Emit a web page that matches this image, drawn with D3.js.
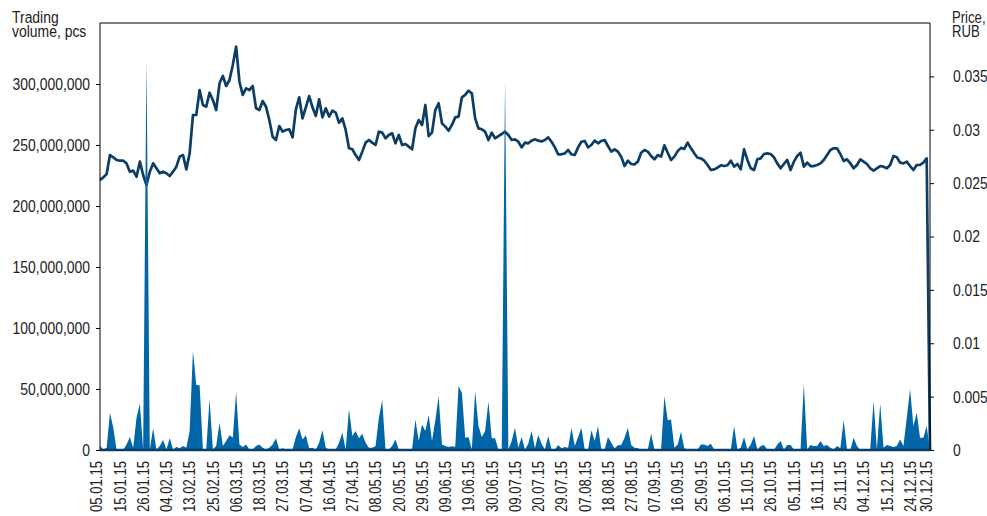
<!DOCTYPE html>
<html>
<head>
<meta charset="utf-8">
<script src="https://cdn.jsdelivr.net/npm/d3@7"></script>
<style>
  body { margin: 0; background: #fff; }
  text { font-family: 'Liberation Sans', Arial, sans-serif; fill: #222; }
</style>
</head>
<body>
<svg id="chart" width="987" height="516"></svg>
<script>
// Trading volume (millions of pcs), one value per trading day, last is the empty 31.12 slot
const volumeMln = [
  3.3, 0.5, 1.9, 30.6, 18.3, 0, 0, 0, 4.6, 10.7,
  1.9, 26.5, 38.0, 0.5, 320, 0.5, 17.8, 0.5, 3.3, 8.2,
  0.5, 9.6, 0.5, 2.5, 1.4, 3.3, 1.9, 15.6, 81.1, 53.3,
  53.0, 0.5, 0.5, 41.5, 0.5, 3.3, 22.4, 3.3, 7.4, 12.0,
  10.1, 47.5, 4.6, 2.5, 4.6, 0.5, 0.5, 3.3, 4.6, 1.9,
  0.5, 1.9, 4.6, 9.6, 0.5, 1.4, 0.5, 0.5, 0.5, 10.7,
  17.8, 8.7, 12.0, 1.4, 1.9, 0.5, 6.0, 16.1, 1.9, 0.5,
  0.5, 0.5, 6.0, 14.2, 0.5, 33.3, 11.5, 15.6, 9.6, 13.4,
  6.0, 1.9, 1.9, 3.3, 26.5, 41.0, 0.5, 0.5, 3.3, 8.7,
  0.5, 0.5, 0.5, 0.5, 0.5, 25.1, 7.4, 21.0, 15.6, 28.7,
  7.4, 24.3, 44.3, 4.6, 3.3, 2.5, 3.0, 2.7, 52.5, 47.0,
  10.1, 10.7, 0.5, 48.4, 19.7, 10.7, 15.6, 39.6, 9.6, 9.6,
  0.5, 0.5, 303, 0.5, 7.4, 18.3, 1.9, 10.7, 0.5, 5.2,
  15.6, 1.4, 12.3, 5.2, 0.5, 11.5, 0.5, 0.5, 4.1, 1.4,
  2.5, 1.9, 18.3, 3.3, 10.7, 18.3, 0.5, 0.5, 16.1, 7.4,
  19.7, 0.5, 0.5, 10.7, 6.0, 1.4, 3.8, 4.1, 10.1, 18.3,
  4.1, 1.9, 1.4, 0.5, 0.5, 0.5, 13.4, 0.5, 0.5, 0.5,
  44.3, 24.3, 25.1, 1.9, 4.6, 15.0, 1.4, 0.5, 0.5, 0.5,
  0.5, 4.6, 4.6, 3.3, 5.2, 0.5, 0, 0, 0, 0,
  0, 19.7, 0.5, 1.9, 10.7, 0.5, 4.6, 11.5, 0.5, 3.3,
  4.1, 0.5, 0, 0, 4.6, 7.4, 0.5, 4.1, 4.1, 0.5,
  0, 0, 53.8, 0.5, 4.1, 3.3, 3.3, 7.4, 3.3, 4.1,
  1.9, 0.5, 3.3, 1.4, 24.3, 0.5, 0, 10.1, 3.3, 0,
  0, 0, 0.5, 40.2, 0.5, 38.0, 1.9, 4.1, 3.3, 2.5,
  3.3, 8.7, 3.3, 26.5, 49.7, 19.7, 30.6, 10.1, 10.1, 19.7,
  0
];

// Price, RUB
const price = [
  0.02529, 0.02554, 0.02586, 0.02763, 0.02742, 0.02717, 0.02710, 0.02710, 0.02685, 0.02607,
  0.02617, 0.02560, 0.02701, 0.02576, 0.02482, 0.02607, 0.02685, 0.02639, 0.02592, 0.02607,
  0.02592, 0.02567, 0.02607, 0.02654, 0.02748, 0.02763, 0.02629, 0.02779, 0.03138, 0.03138,
  0.03372, 0.03232, 0.03216, 0.03347, 0.03279, 0.03185, 0.03435, 0.03504, 0.03410, 0.03466,
  0.03607, 0.03778, 0.03450, 0.03326, 0.03388, 0.03372, 0.03410, 0.03201, 0.03185, 0.03269,
  0.03216, 0.03091, 0.02935, 0.02904, 0.03035, 0.02982, 0.02998, 0.03004, 0.02929, 0.03191,
  0.03304, 0.03107, 0.03210, 0.03316, 0.03210, 0.03129, 0.03285, 0.03116, 0.03201, 0.03123,
  0.03179, 0.03160, 0.03066, 0.03107, 0.02998, 0.02826, 0.02817, 0.02763, 0.02717, 0.02795,
  0.02879, 0.02904, 0.02879, 0.02857, 0.02982, 0.02973, 0.02920, 0.02951, 0.02967, 0.02873,
  0.02951, 0.02857, 0.02867, 0.02842, 0.02817, 0.03013, 0.03091, 0.03045, 0.03232, 0.02941,
  0.02973, 0.03185, 0.03248, 0.03060, 0.03029, 0.02991, 0.03045, 0.03116, 0.03123, 0.03304,
  0.03326, 0.03366, 0.03341, 0.03107, 0.03013, 0.03004, 0.02982, 0.02904, 0.02973, 0.02920,
  0.02941, 0.02960, 0.02982, 0.02951, 0.02904, 0.02910, 0.02888, 0.02835, 0.02879, 0.02873,
  0.02898, 0.02910, 0.02898, 0.02891, 0.02904, 0.02929, 0.02888, 0.02835, 0.02770, 0.02770,
  0.02779, 0.02810, 0.02770, 0.02763, 0.02835, 0.02888, 0.02895, 0.02835, 0.02857, 0.02898,
  0.02873, 0.02895, 0.02904, 0.02848, 0.02795, 0.02817, 0.02795, 0.02748, 0.02660, 0.02710,
  0.02679, 0.02676, 0.02701, 0.02785, 0.02810, 0.02795, 0.02754, 0.02723, 0.02763, 0.02748,
  0.02854, 0.02785, 0.02717, 0.02748, 0.02800, 0.02830, 0.02820, 0.02879, 0.02826, 0.02779,
  0.02738, 0.02732, 0.02710, 0.02670, 0.02623, 0.02629, 0.02645, 0.02667, 0.02660, 0.02667,
  0.02710, 0.02654, 0.02679, 0.02629, 0.02817, 0.02717, 0.02639, 0.02623, 0.02723, 0.02732,
  0.02773, 0.02779, 0.02773, 0.02742, 0.02685, 0.02639, 0.02679, 0.02717, 0.02623, 0.02701,
  0.02754, 0.02785, 0.02654, 0.02692, 0.02660, 0.02660, 0.02670, 0.02685, 0.02717, 0.02763,
  0.02810, 0.02826, 0.02826, 0.02773, 0.02707, 0.02723, 0.02685, 0.02639, 0.02670, 0.02723,
  0.02701, 0.02679, 0.02639, 0.02617, 0.02639, 0.02660, 0.02654, 0.02639, 0.02670, 0.02754,
  0.02742, 0.02692, 0.02685, 0.02701, 0.02660, 0.02623, 0.02670, 0.02670, 0.02692, 0.02732,
  0
];

// Date labels and the index on the category axis each one sits on
const dateLabels = [
  "05.01.15", "15.01.15", "26.01.15", "04.02.15", "13.02.15", "25.02.15", "06.03.15", "18.03.15",
  "27.03.15", "07.04.15", "16.04.15", "27.04.15", "08.05.15", "20.05.15", "29.05.15", "09.06.15",
  "19.06.15", "30.06.15", "09.07.15", "20.07.15", "29.07.15", "07.08.15", "18.08.15", "27.08.15",
  "07.09.15", "16.09.15", "25.09.15", "06.10.15", "15.10.15", "26.10.15", "05.11.15", "16.11.15",
  "25.11.15", "04.12.15", "15.12.15", "24.12.15", "30.12.15"
];
const dateLabelIdx = [
  0, 7, 14, 21, 28, 35, 42, 49, 56, 63, 70, 77, 84, 91, 98, 105, 112, 119, 126,
  133, 140, 147, 154, 161, 168, 175, 182, 189, 196, 203, 210, 217, 224, 231, 238, 245, 250
];

const volumeTicks = [0, 50e6, 100e6, 150e6, 200e6, 250e6, 300e6];
const priceTicks = [0, 0.005, 0.01, 0.015, 0.02, 0.025, 0.03, 0.035];

const svg = d3.select('#chart');
const plotL = 100, plotR = 930, plotT = 23, plotB = 450;
const narrow = 0.82;  // squeeze Liberation Sans to look like a narrow face

const x = d3.scaleLinear().domain([0, price.length - 1]).range([plotL, plotR]);
const yVol = d3.scaleLinear().domain([0, 350e6]).range([plotB, plotT]);
const yPrice = d3.scaleLinear().domain([0, 0.04]).range([plotB, plotT]);

// price line (drawn under the volume area)
const line = d3.line()
  .x((d, i) => x(i))
  .y(d => yPrice(d));

svg.append('path')
  .datum(price)
  .attr('fill', 'none')
  .attr('stroke', '#0c3d64')
  .attr('stroke-width', 2.7)
  .attr('stroke-linejoin', 'round')
  .attr('d', line);

// volume area
const area = d3.area()
  .x((d, i) => x(i))
  .y0(yVol(0))
  .y1(d => yVol(d * 1e6));

svg.append('path')
  .datum(volumeMln)
  .attr('fill', '#0066a8')
  .attr('d', area);

// frame
svg.append('path')
  .attr('d', `M${plotL},${plotB}V${plotT}H${plotR}V${plotB}`)
  .attr('fill', 'none')
  .attr('stroke', '#000')
  .attr('stroke-width', 1);

svg.append('line')
  .attr('x1', plotL).attr('x2', plotR)
  .attr('y1', yVol(0)).attr('y2', yVol(0))
  .attr('stroke', '#0c3d64')
  .attr('stroke-width', 2.5);

// left axis
const axL = svg.append('g')
  .attr('transform', `translate(${plotL},0)`)
  .call(d3.axisLeft(yVol).tickValues(volumeTicks).tickFormat(d3.format(',')).tickSize(4));
axL.select('.domain').remove();
axL.selectAll('text')
  .attr('x', -10 / narrow)
  .attr('transform', `scale(${narrow},1)`)
  .style('font-size', '17px');

// right axis
const axR = svg.append('g')
  .attr('transform', `translate(${plotR},0)`)
  .call(d3.axisRight(yPrice).tickValues(priceTicks).tickFormat(d => d === 0 ? '0' : String(+d.toFixed(3))).tickSize(4));
axR.select('.domain').remove();
axR.selectAll('text')
  .attr('x', 23 / narrow)
  .attr('transform', `scale(${narrow},1)`)
  .style('font-size', '17px');

// x labels
svg.append('g')
  .selectAll('text')
  .data(dateLabels)
  .join('text')
  .attr('transform', (d, i) => `translate(${x(dateLabelIdx[i]) - 3},461) rotate(-90) scale(${narrow},1)`)
  .attr('text-anchor', 'end')
  .attr('dominant-baseline', 'central')
  .style('font-size', '16px')
  .text(d => d);

// axis titles
function title(px, py, lines, size) {
  const t = svg.append('text')
    .attr('transform', `translate(${px},${py}) scale(${narrow},1)`)
    .style('font-size', size + 'px');
  lines.forEach((s, i) => t.append('tspan').attr('x', 0).attr('y', i * 14).text(s));
}
title(12, 23, ['Trading', 'volume, pcs'], 17);
title(952, 23, ['Price,', 'RUB'], 16);
</script>
</body>
</html>
